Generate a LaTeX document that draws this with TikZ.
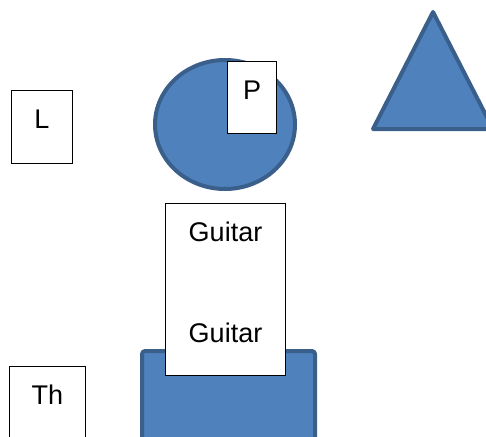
\documentclass[tikz,border=0pt]{standalone}
\usepackage{fontspec}
\setmainfont{Liberation Sans}
\definecolor{shapefill}{HTML}{4F81BD}
\definecolor{shapeline}{HTML}{3A5F8B}
\tikzset{
  blob/.style={fill=shapefill,draw=shapeline,line width=4pt,line join=round},
  txtbox/.style={draw,fill=white,line width=1pt,inner sep=0pt,anchor=north west,
    font=\fontsize{27}{32}\selectfont},
}
\begin{document}
\begin{tikzpicture}[x=1pt,y=-1pt]
  \useasboundingbox (0,0) rectangle (486,436);
  \clip (0,0) rectangle (486,436);
  \draw[blob] (225,124.5) ellipse [x radius=70pt,y radius=64.5pt];
  \draw[blob] (433,12) -- (493,129) -- (373,129) -- cycle;
  \draw[blob,rounded corners=3pt] (142,470) rectangle (315,351);
  \foreach \nm/\x/\y/\w/\d/\t in {lbox/11/90/61/35/L,pbox/227/61/49/34/P,thbox/9/366/76/80/Th} {
    \node[txtbox,minimum width=\w pt,text height=38pt,text depth=\d pt] (\nm) at (\x,\y) {\t};
  }
  \node[txtbox,minimum width=120pt,align=center] (guitar) at (165,203)
    {\rule{0pt}{38pt}Guitar\\[69pt]Guitar\rule[-33pt]{0pt}{33pt}};
\end{tikzpicture}
\end{document}
